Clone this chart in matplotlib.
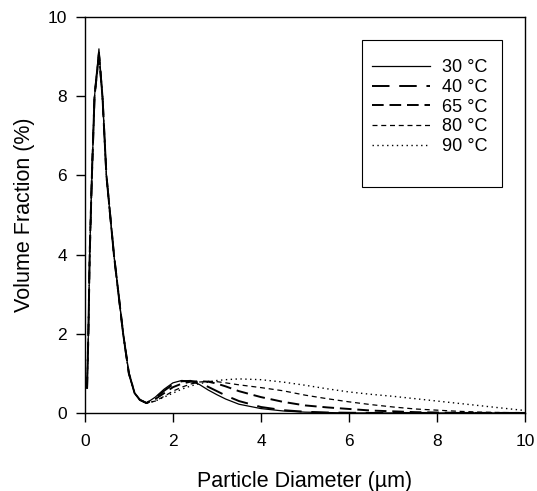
import numpy as np
from matplotlib import pyplot as plt
from matplotlib.patches import Rectangle

plt.rcParams['font.family'] = ['Liberation Sans', 'DejaVu Sans']

# particle diameter (um)
diameter = [0.05, 0.08, 0.11, 0.16, 0.22, 0.32, 0.40, 0.49, 0.66, 0.87, 1.0, 1.13,
            1.25, 1.4, 1.6, 1.8, 2.0, 2.2, 2.4, 2.6, 2.8, 3.0, 3.2, 3.5, 4.0, 4.5,
            5.0, 5.5, 6.0, 6.5, 7.0, 7.5, 8.0, 8.5, 9.0, 9.5, 10.0]

# volume fraction (%) for each temperature
vf_30 = [0.62, 2.0, 4.0, 6.0, 8.0, 9.2, 8.0, 6.0, 4.0, 2.0, 1.0, 0.5, 0.33, 0.25,
         0.40, 0.60, 0.76, 0.82, 0.80, 0.72, 0.58, 0.46, 0.35, 0.22, 0.11, 0.05,
         0.02, 0.01, 0, 0, 0, 0, 0, 0, 0, 0, 0]
vf_40 = [0.62, 2.0, 4.0, 6.0, 8.0, 9.1, 8.0, 6.0, 4.0, 2.0, 1.0, 0.5, 0.33, 0.25,
         0.38, 0.56, 0.72, 0.80, 0.81, 0.76, 0.66, 0.55, 0.44, 0.30, 0.15, 0.07,
         0.03, 0.01, 0.005, 0, 0, 0, 0, 0, 0, 0, 0]
vf_65 = [0.62, 2.0, 4.0, 6.0, 8.0, 9.05, 8.0, 6.0, 4.0, 2.0, 1.0, 0.5, 0.33, 0.25,
         0.35, 0.50, 0.65, 0.74, 0.79, 0.80, 0.79, 0.74, 0.67, 0.55, 0.40, 0.28,
         0.19, 0.14, 0.10, 0.06, 0.04, 0.02, 0.01, 0, 0, 0, 0]
vf_80 = [0.62, 2.0, 4.0, 6.0, 8.0, 9.0, 8.0, 6.0, 4.0, 2.0, 1.0, 0.5, 0.33, 0.25,
         0.30, 0.42, 0.55, 0.65, 0.73, 0.78, 0.80, 0.79, 0.76, 0.71, 0.64, 0.56,
         0.45, 0.36, 0.28, 0.21, 0.15, 0.10, 0.07, 0.04, 0.02, 0.01, 0.0]
vf_90 = [0.62, 2.0, 4.0, 6.0, 8.0, 9.1, 8.0, 6.0, 4.0, 2.0, 1.0, 0.5, 0.33, 0.25,
         0.30, 0.40, 0.50, 0.60, 0.68, 0.74, 0.78, 0.82, 0.84, 0.86, 0.84, 0.78,
         0.70, 0.61, 0.53, 0.47, 0.42, 0.36, 0.30, 0.24, 0.18, 0.12, 0.06]

labels = ["30 °C", "40 °C", "65 °C", "80 °C", "90 °C"]
series = [vf_30, vf_40, vf_65, vf_80, vf_90]
styles = [dict(ls='-', lw=0.9),
          dict(ls=(0, (9, 5)), lw=1.4),
          dict(ls=(0, (6, 3)), lw=1.4),
          dict(ls=(0, (4, 3)), lw=0.9),
          dict(ls=(0, (1, 2.5)), lw=1.0)]

fig = plt.figure(figsize=(5.37, 4.91), dpi=100)
ax = fig.add_axes([0.158, 0.159, 0.820, 0.806])

for vals, lab, st in zip(series, labels, styles):
    ax.plot(diameter, vals, color='black', label=lab, **st)

ax.set_xlim(0, 10)
ax.set_ylim(0, 10)
ax.set_xticks([0, 2, 4, 6, 8, 10])
ax.set_yticks([0, 2, 4, 6, 8, 10])
ax.tick_params(direction='out', length=6.5, width=1, labelsize=12.5, top=False, right=False)
ax.tick_params(axis='x', pad=8.6)
ax.tick_params(axis='y', pad=6.5)
for sp in ax.spines.values():
    sp.set_linewidth(1)

ax.set_xlabel("Particle Diameter (µm)", fontsize=15.5, labelpad=16)
ax.set_ylabel("Volume Fraction (%)", fontsize=15.5, labelpad=9)

# legend box drawn separately (it has extra room at the bottom)
ax.add_patch(Rectangle((0.630, 0.571), 0.317, 0.371, transform=ax.transAxes,
                       fill=False, edgecolor='black', lw=0.8, zorder=5))
leg = ax.legend(loc='upper left', bbox_to_anchor=(0.652, 0.894), fontsize=13,
                frameon=False, handlelength=3.2, labelspacing=0.15,
                borderpad=0, borderaxespad=0, handletextpad=0.67)

fig.savefig("out.png", dpi=100)
